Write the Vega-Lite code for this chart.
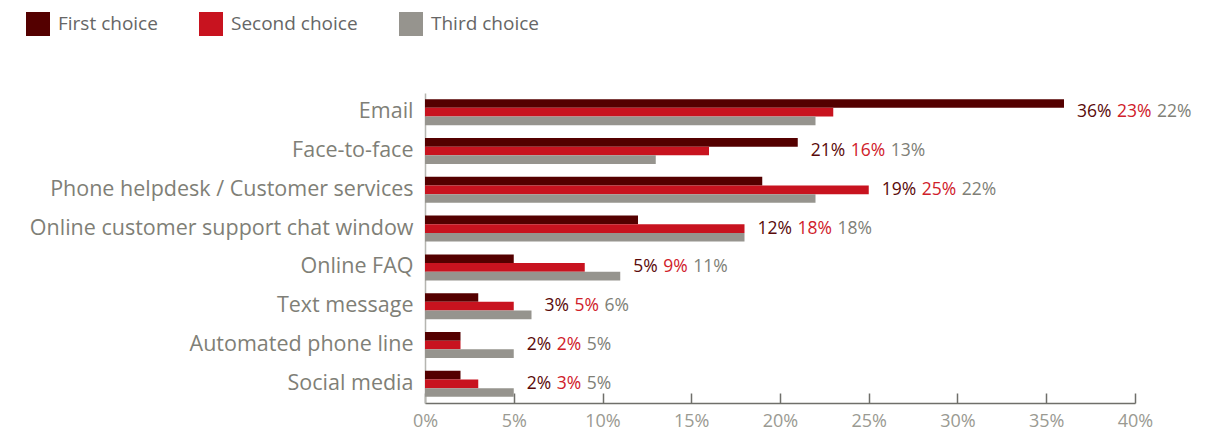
{
  "$schema": "https://vega.github.io/schema/vega-lite/v6.json",
  "width": 710,
  "height": 310,
  "autosize": {"type": "none"},
  "padding": {"left": 425, "top": 93, "right": 80, "bottom": 29},
  "config": {
    "view": {"stroke": null},
    "font": "Open Sans",
    "legend": {
      "orient": "none",
      "legendX": -399,
      "legendY": -81,
      "direction": "horizontal",
      "symbolType": "square",
      "symbolSize": 576,
      "symbolStrokeWidth": 0,
      "symbolOpacity": 1,
      "labelFontSize": 19,
      "labelColor": "#666666",
      "labelOffset": 8,
      "columnPadding": 41,
      "title": null
    }
  },
  "data": {
    "values": [
      {"category": "Email", "choice": "First choice", "value": 0.36},
      {"category": "Email", "choice": "Second choice", "value": 0.23},
      {"category": "Email", "choice": "Third choice", "value": 0.22},
      {"category": "Face-to-face", "choice": "First choice", "value": 0.21},
      {"category": "Face-to-face", "choice": "Second choice", "value": 0.16},
      {"category": "Face-to-face", "choice": "Third choice", "value": 0.13},
      {"category": "Phone helpdesk / Customer services", "choice": "First choice", "value": 0.19},
      {"category": "Phone helpdesk / Customer services", "choice": "Second choice", "value": 0.25},
      {"category": "Phone helpdesk / Customer services", "choice": "Third choice", "value": 0.22},
      {"category": "Online customer support chat window", "choice": "First choice", "value": 0.12},
      {"category": "Online customer support chat window", "choice": "Second choice", "value": 0.18},
      {"category": "Online customer support chat window", "choice": "Third choice", "value": 0.18},
      {"category": "Online FAQ", "choice": "First choice", "value": 0.05},
      {"category": "Online FAQ", "choice": "Second choice", "value": 0.09},
      {"category": "Online FAQ", "choice": "Third choice", "value": 0.11},
      {"category": "Text message", "choice": "First choice", "value": 0.03},
      {"category": "Text message", "choice": "Second choice", "value": 0.05},
      {"category": "Text message", "choice": "Third choice", "value": 0.06},
      {"category": "Automated phone line", "choice": "First choice", "value": 0.02},
      {"category": "Automated phone line", "choice": "Second choice", "value": 0.02},
      {"category": "Automated phone line", "choice": "Third choice", "value": 0.05},
      {"category": "Social media", "choice": "First choice", "value": 0.02},
      {"category": "Social media", "choice": "Second choice", "value": 0.03},
      {"category": "Social media", "choice": "Third choice", "value": 0.05}
    ]
  },
  "transform": [
    {"joinaggregate": [{"op": "max", "field": "value", "as": "maxv"}], "groupby": ["category"]}
  ],
  "encoding": {
    "y": {
      "field": "category",
      "type": "nominal",
      "sort": ["Email", "Face-to-face", "Phone helpdesk / Customer services", "Online customer support chat window", "Online FAQ", "Text message", "Automated phone line", "Social media"],
      "scale": {"paddingInner": 0.33, "paddingOuter": 0.16},
      "axis": {
        "title": null,
        "ticks": false,
        "domain": true,
        "domainColor": "#b5b5b0",
        "domainWidth": 1.5,
        "labelPadding": 12,
        "labelFontSize": 21.5,
        "labelColor": "#7f7f77",
        "labelLimit": 500
      }
    }
  },
  "layer": [
    {
      "mark": {"type": "bar"},
      "encoding": {
        "x": {
          "field": "value",
          "type": "quantitative",
          "scale": {"domain": [0, 0.4], "nice": false},
          "axis": {
            "title": null,
            "format": ".0%",
            "values": [0, 0.05, 0.1, 0.15, 0.2, 0.25, 0.3, 0.35, 0.4],
            "grid": false,
            "domainColor": "#6f6f6a",
            "domainWidth": 1.5,
            "tickColor": "#6f6f6a",
            "tickWidth": 1.5,
            "tickSize": -10,
            "labelFlush": false,
            "labelPadding": 19,
            "labelFontSize": 18,
            "labelColor": "#9a9a92"
          }
        },
        "yOffset": {
          "field": "choice",
          "sort": ["First choice", "Second choice", "Third choice"],
          "scale": {"paddingInner": 0, "paddingOuter": 0}
        },
        "color": {
          "field": "choice",
          "type": "nominal",
          "scale": {
            "domain": ["First choice", "Second choice", "Third choice"],
            "range": ["#540000", "#c8131f", "#96948e"]
          }
        }
      }
    },
    {
      "transform": [{"filter": "datum.choice === 'First choice'"}],
      "mark": {"type": "text", "align": "left", "baseline": "middle", "dx": 13, "fontSize": 17.5, "color": "#5a0a0a"},
      "encoding": {
        "x": {"field": "maxv", "type": "quantitative", "axis": {"title": null}},
        "text": {"field": "value", "type": "quantitative", "format": ".0%"}
      }
    },
    {
      "transform": [{"filter": "datum.choice === 'Second choice' && datum.maxv >= 0.12"}],
      "mark": {"type": "text", "align": "left", "baseline": "middle", "dx": 53, "fontSize": 17.5, "color": "#d0202a"},
      "encoding": {
        "x": {"field": "maxv", "type": "quantitative"},
        "text": {"field": "value", "type": "quantitative", "format": ".0%"}
      }
    },
    {
      "transform": [{"filter": "datum.choice === 'Second choice' && datum.maxv < 0.12"}],
      "mark": {"type": "text", "align": "left", "baseline": "middle", "dx": 43, "fontSize": 17.5, "color": "#d0202a"},
      "encoding": {
        "x": {"field": "maxv", "type": "quantitative"},
        "text": {"field": "value", "type": "quantitative", "format": ".0%"}
      }
    },
    {
      "transform": [{"filter": "datum.choice === 'Third choice' && datum.maxv >= 0.12"}],
      "mark": {"type": "text", "align": "left", "baseline": "middle", "dx": 93, "fontSize": 17.5, "color": "#807f77"},
      "encoding": {
        "x": {"field": "maxv", "type": "quantitative"},
        "text": {"field": "value", "type": "quantitative", "format": ".0%"}
      }
    },
    {
      "transform": [{"filter": "datum.choice === 'Third choice' && datum.maxv < 0.12"}],
      "mark": {"type": "text", "align": "left", "baseline": "middle", "dx": 73, "fontSize": 17.5, "color": "#807f77"},
      "encoding": {
        "x": {"field": "maxv", "type": "quantitative"},
        "text": {"field": "value", "type": "quantitative", "format": ".0%"}
      }
    }
  ]
}
